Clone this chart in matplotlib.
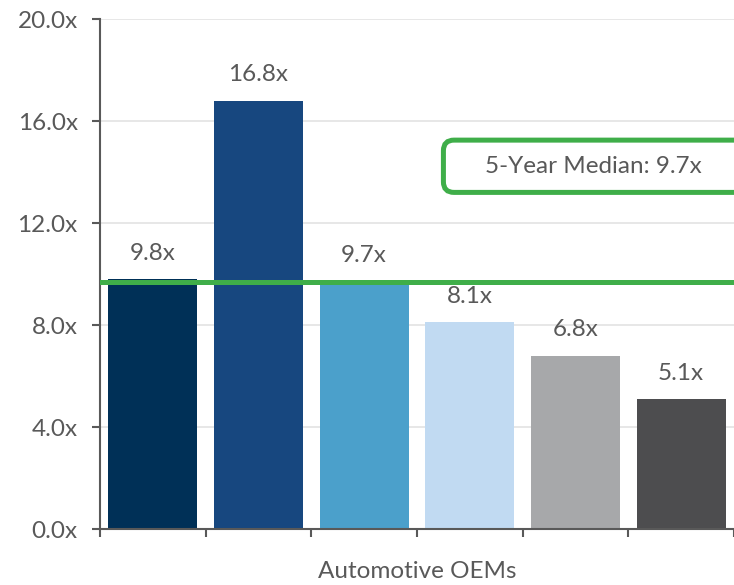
import matplotlib
matplotlib.use("Agg")
import matplotlib.pyplot as plt
from matplotlib.patches import FancyBboxPatch
from matplotlib.ticker import FuncFormatter

plt.rcParams["font.family"] = ["Lato", "DejaVu Sans"]

# EV/EBITDA multiples, one bar per year
multiples = [9.8, 16.8, 9.7, 8.1, 6.8, 5.1]
bar_colors = ["#003057", "#17477F", "#4BA0CB", "#C1DAF2", "#A7A8AA", "#4D4D4F"]
median = 9.7
category = "Automotive OEMs"
y_ticks = [0, 4, 8, 12, 16, 20]

text_gray = "#595959"
green = "#3FAE49"
fs = 17.5

fig = plt.figure(figsize=(7.34, 5.85), dpi=100)
ax = fig.add_axes([100 / 734, 56 / 585, 634 / 734, 510 / 585])

xs = list(range(len(multiples)))
bars = ax.bar(xs, multiples, width=0.84, color=bar_colors, zorder=2)

for x, v in zip(xs, multiples):
    ax.annotate(f"{v:.1f}x", (x, v), xytext=(0, 18.5), textcoords="offset points",
                ha="center", va="center", fontsize=fs, color=text_gray)

ax.axhline(median, color=green, lw=3.6, zorder=3)

# callout box for the median, running off the right edge
box = FancyBboxPatch((2.75, 13.2), 2.95, 2.05,
                     boxstyle="round,pad=0,rounding_size=0.1",
                     mutation_aspect=4.15, fc="white", ec=green, lw=3.6,
                     clip_on=False, zorder=4)
ax.add_patch(box)
ax.text(4.17, 14.2, f"5-Year Median: {median:.1f}x", ha="center", va="center",
        fontsize=fs, color=text_gray, zorder=5)

ax.set_xlim(-0.5, 5.5)
ax.set_ylim(0, 20)
ax.set_yticks(y_ticks)
ax.yaxis.set_major_formatter(FuncFormatter(lambda v, p: f"{v:.1f}x"))
ax.set_xticks([x - 0.5 for x in range(len(multiples) + 1)])
ax.set_xticklabels([])
ax.set_xlabel(category, fontsize=fs, color=text_gray, va="center")
ax.xaxis.set_label_coords(0.5, -43 / 510)

ax.grid(axis="y", color="#E3E3E3", lw=1.2, zorder=0)
ax.set_axisbelow(True)
for side in ["top", "right"]:
    ax.spines[side].set_visible(False)
for side in ["left", "bottom"]:
    ax.spines[side].set_color(text_gray)
    ax.spines[side].set_linewidth(1.5)
ax.tick_params(axis="y", length=6, width=1.5, color=text_gray,
               labelcolor=text_gray, labelsize=fs, pad=10)
ax.tick_params(axis="x", length=6, width=1.5, color=text_gray)

fig.savefig("out.png", dpi=100)
